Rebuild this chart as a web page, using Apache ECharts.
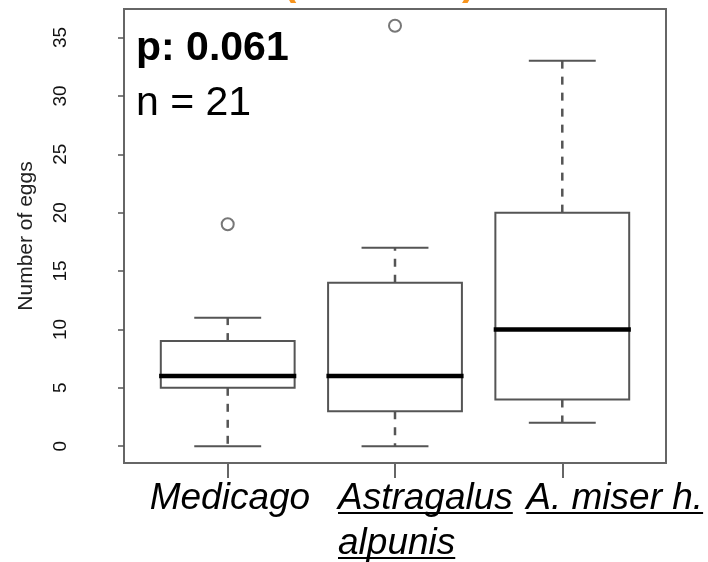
<!DOCTYPE html>
<html>
<head>
<meta charset="utf-8">
<script src="https://cdn.jsdelivr.net/npm/echarts@6/dist/echarts.min.js"></script>
<style>
  html, body { margin: 0; padding: 0; background: #fff; }
  #chart { width: 708px; height: 562px; }
</style>
</head>
<body>
<div id="chart"></div>
<script>
// 数据
const categories = ['Medicago', 'Astragalus\nalpunis', 'A. miser h.']
const categoryPos = [1, 2, 3]
const whiskerLow = [0, 0, 2]
const q1 = [5, 3, 4]
const median = [6, 6, 10]
const q3 = [9, 14, 20]
const whiskerHigh = [11, 17, 33]
const outlierPos = [1, 2]
const outlierValue = [19, 36]
const yTicks = [0, 5, 10, 15, 20, 25, 30, 35]

const FONT = '"Liberation Sans", Arial, sans-serif'
const boxColor = '#555'
const Y_MIN = -1.44
const Y_MAX = 37.44

const boxData = categoryPos.map((x, i) => [x, whiskerLow[i], q1[i], median[i], q3[i], whiskerHigh[i]])
const outlierData = outlierPos.map((x, i) => [x, outlierValue[i]])

// 类别文字相对刻度的左偏移（参考图中是叠加的文本框）
const labelShift = [-78, -57, -36]
const labelUnderline = [false, true, true]

// 下划线（用渐变背景模拟）
const underline = {
  type: 'linear', x: 0, y: 0, x2: 0, y2: 1,
  colorStops: [
    { offset: 0, color: 'rgba(0,0,0,0)' },
    { offset: 0.855, color: 'rgba(0,0,0,0)' },
    { offset: 0.855, color: '#000' },
    { offset: 0.9, color: '#000' },
    { offset: 0.9, color: 'rgba(0,0,0,0)' },
    { offset: 1, color: 'rgba(0,0,0,0)' }
  ]
}

const labelText = { fontSize: 37, fontStyle: 'italic', fontFamily: FONT, fill: '#000', lineHeight: 45 }

const renderBox = (params, api) => {
  const x = api.value(0)
  const low = api.value(1), lo = api.value(2), med = api.value(3), hi = api.value(4), high = api.value(5)
  const half = 0.4, cap = 0.2
  const pTopLeft = api.coord([x - half, hi])
  const pBotRight = api.coord([x + half, lo])
  const line = (x1, y1, x2, y2, style) => {
    const a = api.coord([x1, y1]), b = api.coord([x2, y2])
    return { type: 'line', shape: { x1: a[0], y1: a[1], x2: b[0], y2: b[1] }, style }
  }
  const dashStyle = { stroke: boxColor, lineWidth: 2.5, lineDash: [8, 8] }
  const solid = { stroke: boxColor, lineWidth: 2 }
  return {
    type: 'group',
    children: [
      line(x, hi, x, high, dashStyle),
      line(x, lo, x, low, dashStyle),
      line(x - cap, high, x + cap, high, solid),
      line(x - cap, low, x + cap, low, solid),
      {
        type: 'rect',
        shape: { x: pTopLeft[0], y: pTopLeft[1], width: pBotRight[0] - pTopLeft[0], height: pBotRight[1] - pTopLeft[1] },
        style: { fill: '#fff', stroke: boxColor, lineWidth: 2 }
      },
      line(x - half - 0.01, med, x + half + 0.01, med, { stroke: '#000', lineWidth: 4.5 })
    ]
  }
}

// x 轴类别文字
const renderLabel = (params, api) => {
  const i = params.dataIndex
  const p = api.coord([api.value(0), Y_MIN])
  const tag = labelUnderline[i] ? 'u' : 't'
  const text = categories[i].split('\n').map(s => `{${tag}|${s}}`).join('\n')
  return {
    type: 'text',
    x: p[0] + labelShift[i],
    y: p[1] + 13.5,
    style: {
      text,
      align: 'left',
      verticalAlign: 'top',
      rich: {
        t: labelText,
        u: Object.assign({}, labelText, { backgroundColor: underline })
      }
    }
  }
}

const chart = echarts.init(document.getElementById('chart'))

const option = {
  animation: false,
  backgroundColor: '#fff',
  grid: {
    left: 124, right: 42, top: 9, bottom: 99,
    show: true, borderColor: '#666', borderWidth: 2, backgroundColor: '#fff'
  },
  xAxis: {
    type: 'value',
    min: 0.38,
    max: 3.62,
    axisLine: { show: false, onZero: false },
    splitLine: { show: false },
    axisTick: { show: true, customValues: categoryPos, length: 15, lineStyle: { color: '#666', width: 2 } },
    axisLabel: { show: false }
  },
  yAxis: {
    type: 'value',
    min: Y_MIN,
    max: Y_MAX,
    name: 'Number of eggs',
    nameLocation: 'middle',
    nameRotate: 90,
    nameGap: 87,
    nameTextStyle: { fontSize: 21, fontFamily: FONT, color: '#222' },
    axisLine: { show: false, onZero: false },
    splitLine: { show: false },
    axisTick: { show: true, customValues: yTicks, length: 6, lineStyle: { color: '#555', width: 1.5 } },
    axisLabel: {
      customValues: yTicks,
      rotate: 90,
      margin: 54,
      fontSize: 19,
      fontFamily: FONT,
      color: '#111'
    }
  },
  series: [
    {
      type: 'custom',
      renderItem: renderBox,
      encode: { x: 0, y: [1, 2, 3, 4, 5] },
      data: boxData,
      z: 3
    },
    {
      type: 'scatter',
      symbol: 'emptyCircle',
      symbolSize: 12,
      itemStyle: { color: boxColor, borderWidth: 2 },
      data: outlierData,
      z: 4
    },
    {
      type: 'custom',
      renderItem: renderLabel,
      clip: false,
      silent: true,
      encode: { x: 0 },
      data: categoryPos.map(x => [x]),
      z: 5
    }
  ],
  graphic: [
    {
      type: 'text', left: 283, top: -36, z: 10,
      style: { text: '(', fontSize: 40, fontWeight: 'bold', fontFamily: FONT, fill: '#f7941d' }
    },
    {
      type: 'text', left: 462, top: -36, z: 10,
      style: { text: ')', fontSize: 40, fontWeight: 'bold', fontFamily: FONT, fill: '#f7941d' }
    },
    {
      type: 'text', left: 136, top: 28, z: 10,
      style: { text: 'p: 0.061', fontSize: 41, fontWeight: 'bold', fontFamily: FONT, fill: '#000' }
    },
    {
      type: 'text', left: 136, top: 83, z: 10,
      style: { text: 'n = 21', fontSize: 41, fontFamily: FONT, fill: '#000' }
    }
  ]
}

chart.setOption(option)
</script>
</body>
</html>
